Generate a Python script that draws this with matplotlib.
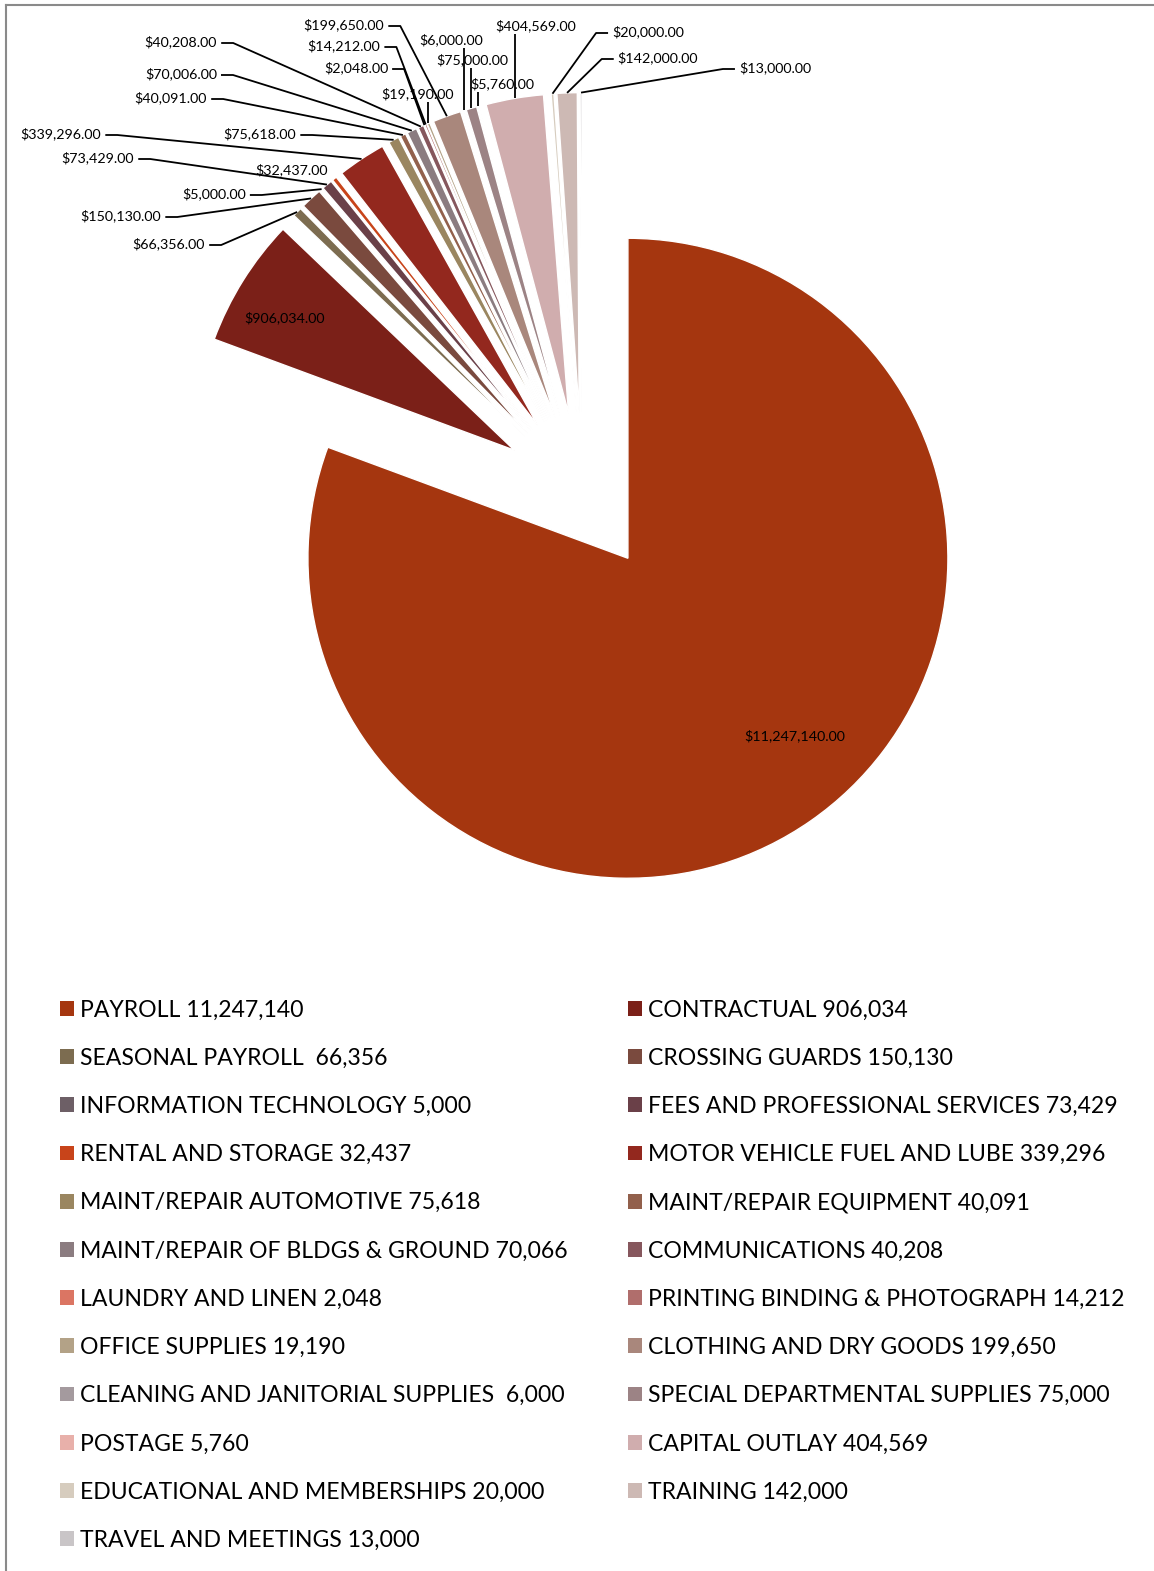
import matplotlib
matplotlib.use('Agg')
import matplotlib.pyplot as plt
import numpy as np
from matplotlib.lines import Line2D
from matplotlib.patches import Patch

# budget lines, in pie order (clockwise from 12 o'clock)
categories = [
    'PAYROLL', 'CONTRACTUAL', 'SEASONAL PAYROLL ', 'CROSSING GUARDS',
    'INFORMATION TECHNOLOGY', 'FEES AND PROFESSIONAL SERVICES', 'RENTAL AND STORAGE',
    'MOTOR VEHICLE FUEL AND LUBE', 'MAINT/REPAIR AUTOMOTIVE', 'MAINT/REPAIR EQUIPMENT',
    'MAINT/REPAIR OF BLDGS & GROUND', 'COMMUNICATIONS', 'LAUNDRY AND LINEN',
    'PRINTING BINDING & PHOTOGRAPH', 'OFFICE SUPPLIES', 'CLOTHING AND DRY GOODS',
    'CLEANING AND JANITORIAL SUPPLIES ', 'SPECIAL DEPARTMENTAL SUPPLIES', 'POSTAGE',
    'CAPITAL OUTLAY', 'EDUCATIONAL AND MEMBERSHIPS', 'TRAINING', 'TRAVEL AND MEETINGS',
]
amounts = [
    11247140, 906034, 66356, 150130, 5000, 73429, 32437, 339296, 75618, 40091,
    70066, 40208, 2048, 14212, 19190, 199650, 6000, 75000, 5760, 404569,
    20000, 142000, 13000,
]
# data labels as printed on the chart
value_labels = [
    '$11,247,140.00', '$906,034.00', '$66,356.00', '$150,130.00', '$5,000.00',
    '$73,429.00', '$32,437.00', '$339,296.00', '$75,618.00', '$40,091.00',
    '$70,006.00', '$40,208.00', '$2,048.00', '$14,212.00', '$19,190.00',
    '$199,650.00', '$6,000.00', '$75,000.00', '$5,760.00', '$404,569.00',
    '$20,000.00', '$142,000.00', '$13,000.00',
]
colors = [
    '#A5360F', '#7B2018', '#7C6C50', '#7A4A3E', '#6D5F66', '#6A4048', '#C8441A',
    '#93281E', '#9A8660', '#92604C', '#8B7C80', '#86575D', '#DB7563', '#B06E6C',
    '#B3A287', '#A9877C', '#A49A9E', '#9C8385', '#E8B0AA', '#D0ADAE', '#D6CCBE',
    '#CDB9B4', '#C9C5C7',
]

# label placement in pixels (x, y from top-left) and leader style
label_pos = [
    (795, 736, None), (285, 318, None), (169, 244, 'L'), (121, 216, 'L'),
    (214, 194, 'L'), (98, 158, 'L'), (292, 170, None), (61, 134, 'L'),
    (260, 134, 'L'), (171, 98, 'L'), (181, 74, 'L'), (181, 42, 'L'),
    (356, 68, 'L'), (344, 46, 'L'), (418, 94, 'V'), (344, 25, 'L'),
    (451, 40, 'V'), (472, 60, 'V'), (502, 84, 'V'), (536, 26, 'V'),
    (648, 32, 'R'), (658, 58, 'R'), (775, 68, 'R'),
]

W, H = 1154, 1571
cx, cy, R = 582.2, 492.6, 320.0
FONT = ['Lato', 'DejaVu Sans']

fig = plt.figure(figsize=(W / 100, H / 100), dpi=100)
ax = fig.add_axes([0, 0, 1, 1])

n = len(amounts)
wedges, _ = ax.pie(amounts, colors=colors, startangle=90, counterclock=False,
                   explode=[0.25] * n, radius=1,
                   wedgeprops=dict(edgecolor='white', linewidth=1))
ax.set_xlim(-cx / R, (W - cx) / R)
ax.set_ylim((cy - H) / R, cy / R)
ax.set_aspect('auto')
ax.axis('off')


def px(x, y):
    return (x - cx) / R, (cy - y) / R


renderer = fig.canvas.get_renderer()
inv = ax.transData.inverted()
gap = 4 / R
seg = 12 / R
for i, w in enumerate(wedges):
    tx, ty, mode = label_pos[i]
    t = ax.text(*px(tx, ty), value_labels[i], ha='center', va='center',
                fontsize=10.3, family=FONT, color='black')
    if mode is None:
        continue
    th = np.deg2rad((w.theta1 + w.theta2) / 2)
    ox, oy = w.center
    p = (ox + w.r * np.cos(th), oy + w.r * np.sin(th))
    bb = t.get_window_extent(renderer).transformed(inv)
    mid = (bb.y0 + bb.y1) / 2 - 1 / R
    if mode == 'L':
        xs = [p[0], bb.x1 + gap + seg, bb.x1 + gap]
        ys = [p[1], mid, mid]
    elif mode == 'R':
        xs = [p[0], bb.x0 - gap - seg, bb.x0 - gap]
        ys = [p[1], mid, mid]
    else:
        xs = [p[0], p[0]]
        ys = [p[1], bb.y0 - 2 / R]
    ax.plot(xs, ys, color='black', lw=1.3, solid_capstyle='butt')

# legend, row-major like the original (two columns)
order = list(range(0, n, 2)) + list(range(1, n, 2))
handles = [Patch(facecolor=colors[i], edgecolor='none') for i in order]
labels = ['{} {:,}'.format(categories[i], amounts[i]) for i in order]
fig.legend(handles, labels, loc='upper left', bbox_to_anchor=(60 / W, 1 - 999.5 / H),
           ncol=2, frameon=False, prop=dict(family=FONT, size=16.6),
           handlelength=0.6, handleheight=0.6, handletextpad=0.28,
           labelspacing=1.18, columnspacing=2.6, borderaxespad=0, borderpad=0)

# chart border (top and left edges visible)
fig.add_artist(Line2D([6 / W, 6 / W], [0, 1 - 5 / H], color='#8a8a8a', lw=1.5,
                      transform=fig.transFigure))
fig.add_artist(Line2D([6 / W, 1], [1 - 5 / H, 1 - 5 / H], color='#8a8a8a', lw=1.5,
                      transform=fig.transFigure))

fig.savefig('out.png', dpi=100, facecolor='white')
